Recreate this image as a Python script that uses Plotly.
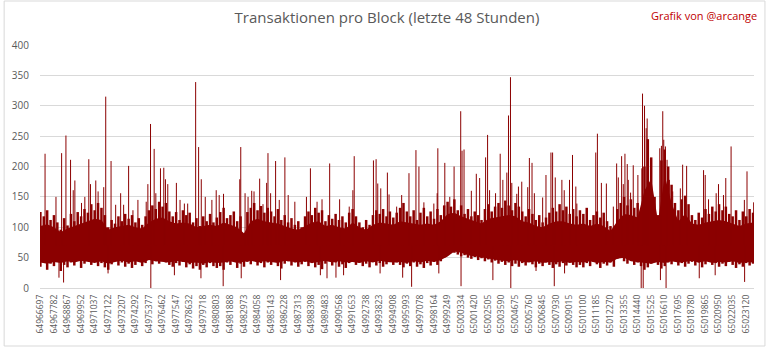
import numpy as np
import plotly.graph_objects as go

# ---------------- data ----------------
FIRST_BLOCK = 64966697
LAST_BLOCK = 65023770
SAMPLE_STEP = 271.4  # blocks between envelope samples

tick_blocks = [64966697, 64967782, 64968867, 64969952, 64971037, 64972122, 64973207,
               64974292, 64975377, 64976462, 64977547, 64978632, 64979718, 64980803,
               64981888, 64982973, 64984058, 64985143, 64986228, 64987313, 64988398,
               64989483, 64990568, 64991653, 64992738, 64993823, 64994908, 64995993,
               64997078, 64998164, 64999249, 65000334, 65001420, 65002505, 65003590,
               65004675, 65005760, 65006845, 65007930, 65009015, 65010100, 65011185,
               65012270, 65013355, 65014440, 65015525, 65016610, 65017695, 65018780,
               65019865, 65020950, 65022035, 65023120]
tick_labels = [str(b) for b in tick_blocks]

# max transactions per sample window
band_high = [125, 118, 128, 112, 120, 108, 96, 115, 103, 122,
             110, 125, 118, 130, 124, 138, 128, 140, 132, 120,
             100, 112, 106, 118, 110, 122, 114, 120, 108, 115,
             104, 118, 128, 136, 130, 142, 134, 140, 126, 118,
             125, 112, 128, 120, 124, 108, 115, 102, 118, 110,
             122, 108, 116,
             125, 132, 115, 120, 126, 110, 118, 88, 125, 132,
             140, 128, 135, 124, 132, 126, 118, 130, 112, 120,
             108, 115, 104, 110, 100, 118, 126, 120, 132, 124,
             128, 110, 120, 114, 122, 112, 118, 108, 124, 130,
             118, 108, 100, 112, 104, 120, 128, 122, 130, 118,
             126, 116, 124,
             132, 140, 126, 118, 128, 112, 124, 132, 118, 126,
             114, 130, 120, 136, 142, 134, 146, 128, 136, 122,
             130, 118, 126, 120, 112, 130, 138, 126, 134, 140,
             132, 144, 136, 128, 140, 134, 126, 118, 130, 122,
             112, 120, 108, 116, 124, 132, 126, 138, 128, 134,
             122, 130, 118,
             128, 122, 132, 112, 120, 126, 116, 124, 110, 102,
             96, 130, 140, 150, 136, 146, 132, 140, 128, 200,
             245, 215, 150, 120, 210, 228, 200, 170, 140, 128,
             146, 152, 138, 120, 112, 124, 116, 130, 122, 134,
             126, 138, 128, 134, 122, 118, 128, 112, 126, 118,
             130, 124]

# min transactions per sample window
band_low = [35, 42, 30, 40, 36, 44, 28, 38, 34, 42,
            37, 45, 33, 40, 46, 38, 43, 36, 41, 34,
            30, 39, 44, 37, 42, 35, 40, 33, 38, 45,
            36, 41, 47, 39, 44, 40, 46, 42, 38, 35,
            41, 37, 43, 34, 39, 32, 36, 30, 38, 34,
            41, 36, 33,
            36, 30, 42, 38, 44, 33, 40, 35, 43, 39,
            45, 37, 41, 34, 42, 38, 46, 36, 32, 40,
            44, 37, 42, 35, 39, 43, 36, 41, 34, 38,
            31, 40, 44, 37, 42, 35, 39, 33, 41, 45,
            38, 42, 36, 40, 34, 43, 37, 41, 35, 39,
            44, 38, 42,
            38, 34, 40, 36, 42, 35, 39, 33, 41, 37,
            43, 38, 44, 50, 62, 60, 58, 55, 52, 54,
            50, 48, 51, 46, 49, 44, 47, 42, 45, 40,
            43, 38, 42, 36, 40, 35, 41, 37, 43, 39,
            34, 40, 36, 42, 38, 33, 39, 35, 41, 37,
            43, 38, 34,
            38, 34, 41, 36, 43, 39, 33, 40, 37, 42,
            35, 48, 52, 44, 40, 46, 38, 42, 36, 30,
            34, 40, 45, 38, 32, 36, 42, 39, 44, 37,
            41, 35, 40, 43, 37, 42, 34, 39, 45, 38,
            41, 35, 40, 36, 43, 38, 33, 39, 35, 41,
            37, 40]

# dense core of the band (every second sample window)
core_high = [102, 105, 100, 92, 98, 102, 106, 110, 114, 112, 96, 100, 102, 104, 100, 98, 108,
             114, 116, 110, 106, 108, 106, 100, 102, 104, 102,
             108, 104, 100, 90, 110, 114, 110, 108, 106, 102, 98, 96, 102, 108, 110, 102, 104,
             100, 98, 108, 100, 96, 104, 108, 106, 104,
             110, 108, 106, 104, 106, 104, 110, 122, 124, 118, 114, 110, 106, 114, 116, 118,
             120, 118, 110, 108, 102, 100, 106, 110, 110, 106, 104,
             106, 102, 106, 102, 94, 110, 122, 120, 116, 160, 180, 110, 185, 140, 110, 122, 106,
             104, 108, 110, 112, 110, 106, 102, 106, 108]
core_low = [42, 40, 43, 41, 44, 42, 45, 43, 41, 44, 40, 43, 45, 42, 44, 41, 46, 44, 43, 42,
            45, 43, 41, 42, 40, 43, 41,
            42, 44, 41, 43, 45, 42, 44, 43, 41, 45, 43, 42, 44, 41, 43, 45, 42, 44, 42, 43,
            41, 44, 42, 45, 43, 42,
            43, 41, 44, 42, 45, 43, 46, 52, 60, 58, 54, 52, 50, 48, 46, 45, 44, 46, 43, 42,
            44, 41, 43, 42, 44, 41, 43,
            42, 44, 41, 43, 42, 48, 50, 44, 43, 42, 40, 43, 41, 44, 42, 43, 45, 42, 44, 41,
            43, 42, 44, 41, 43, 42]

# individual peak blocks
spike_blocks = [64967071, 64967945, 64968395, 64968741, 64969111, 64969324, 64969456, 64969987,
                64970252, 64970571, 64970704, 64971128, 64971314, 64971764, 64971923, 64972349,
                64972719, 64973117, 64973356, 64973754, 64974100, 64974498, 64975161, 64975294,
                64975506, 64975797, 64975931, 64976302, 64976567, 64976700, 64976886, 64977575,
                64977867, 64978212, 64978478, 64979115, 64979353, 64979565, 64979883, 64980414,
                64980760,
                64980999, 64981344, 64982644, 64982723, 64983068, 64983307, 64983599, 64983784,
                64984235, 64984501, 64984793, 64984899, 64985111, 64985509, 64985801, 64986252,
                64986517, 64987048, 64987976, 64988294, 64988825, 64989223, 64989833, 64990629,
                64991398, 64991690, 64991796, 64993335, 64993547, 64993680, 64993919, 64994450,
                64994583, 64995192,
                64995592, 64996176, 64996733, 64996972, 64997369, 64998165, 64998431, 64998484,
                64999041, 64999439, 64999784, 65000314, 65000420, 65000580, 65001163, 65001561,
                65001827, 65002304, 65002463, 65002622, 65003100, 65003471, 65003684, 65004002,
                65004135, 65004294, 65004400, 65004798, 65004931, 65005196, 65005673, 65005806,
                65006018, 65006204, 65006867, 65007133, 65007530, 65007663, 65007875, 65008406,
                65008592, 65009016, 65009255, 65009520,
                65009602, 65011114, 65011246, 65011565, 65011963, 65012520, 65012785, 65012918,
                65013183, 65013316, 65013448, 65013634, 65013714, 65013900, 65014112, 65014483,
                65014801, 65014855, 65015014, 65015146, 65015226, 65015306, 65016234, 65016367,
                65016473, 65016553, 65016685, 65016818, 65017003, 65017269, 65017879, 65018064,
                65018383, 65019736, 65019869, 65020134, 65020744, 65020930, 65021328, 65021513,
                65021938, 65023000, 65023211, 65023742]
spike_values = [221, 150, 222, 251, 211, 161, 177, 140,
                150, 212, 171, 177, 159, 166, 315, 209,
                137, 156, 137, 201, 128, 145, 142, 171,
                270, 229, 156, 197, 198, 179, 171, 173,
                145, 139, 139, 339, 232, 179, 150, 145,
                161,
                153, 155, 179, 232, 156, 150, 160, 159,
                180, 138, 173, 222, 156, 209, 145, 215,
                153, 142, 150, 197, 142, 146, 205, 146,
                134, 161, 217, 210, 212, 172, 164, 190,
                154, 134,
                153, 189, 227, 200, 141, 139, 156, 230,
                206, 150, 200, 291, 226, 228, 160, 188,
                181, 215, 252, 161, 156, 221, 178, 190,
                284, 347, 173, 155, 167, 175, 166, 214,
                206, 156, 149, 186, 223, 223, 182, 178,
                161, 178, 219, 167,
                139, 223, 254, 173, 172, 134, 205, 182,
                217, 171, 221, 204, 178, 157, 202, 186,
                197, 320, 300, 263, 279, 178, 230, 234,
                291, 244, 233, 211, 178, 159, 164, 203,
                201, 194, 186, 146, 156, 171, 153, 181,
                233, 145, 192, 141]

# individual low blocks
dip_blocks = [64968183, 64968554, 64972110, 64975530, 64977416, 64979539, 64981317, 64982760,
              64985907, 64989090, 64989621, 64990337, 64990947, 64993866, 64995672, 64996388,
              64998563, 65000340, 65002887, 65004320, 65006337, 65007796, 65008620, 65014748,
              65014908, 65016287, 65016738, 65019391, 65020665, 65023020]
dip_values = [17, 9, 24, 0, 21, 16, 3, 16,
              13, 21, 16, 17, 21, 24, 17, 2,
              24, 3, 13, 0, 28, 3, 24, 0,
              0, 13, 0, 16, 21, 10]

# ---------------- figure ----------------
RED = "#8B0000"
GRAY = "#595959"
GRID = "#D9D9D9"
FONT = "Open Sans"

n = min(len(band_high), len(band_low))
sample_blocks = FIRST_BLOCK + np.arange(n) * SAMPLE_STEP
m = min(len(core_high), len(core_low))
core_blocks = FIRST_BLOCK + np.arange(m) * 2 * SAMPLE_STEP


def segments(xs, y0s, y1s):
    ox, oy = [], []
    for x, a, b in zip(xs, y0s, y1s):
        ox += [x, x, None]
        oy += [a, b, None]
    return ox, oy


BASE = 70
wx, wy = segments(sample_blocks, band_low[:n], band_high[:n])
sx, sy = segments(spike_blocks, [BASE] * len(spike_blocks), spike_values)
dx, dy = segments(dip_blocks, [BASE] * len(dip_blocks), dip_values)

fig = go.Figure()
# min-max range of each sample window
fig.add_trace(go.Scatter(x=wx, y=wy, mode="lines", line=dict(color=RED, width=2.5),
                         hoverinfo="skip"))
# dense core
fig.add_trace(go.Scatter(x=core_blocks, y=core_low[:m], mode="lines",
                         line=dict(color=RED, width=0), hoverinfo="skip"))
fig.add_trace(go.Scatter(x=core_blocks, y=core_high[:m], mode="lines", fill="tonexty",
                         fillcolor=RED, line=dict(color=RED, width=0), hoverinfo="skip"))
# peaks and lows
fig.add_trace(go.Scatter(x=sx, y=sy, mode="lines", line=dict(color=RED, width=1),
                         hoverinfo="skip"))
fig.add_trace(go.Scatter(x=dx, y=dy, mode="lines", line=dict(color=RED, width=1),
                         hoverinfo="skip"))

W, H = 768, 349
ML, MR, MT, MB = 37, 14, 45, 61
pw, ph = W - ML - MR, H - MT - MB

fig.update_layout(
    width=W, height=H,
    margin=dict(l=ML, r=MR, t=MT, b=MB),
    paper_bgcolor="white", plot_bgcolor="white",
    showlegend=False,
    font=dict(family=FONT, color=GRAY),
    title=dict(text="Transaktionen pro Block (letzte 48 Stunden)",
               font=dict(family=FONT, size=15, color=GRAY),
               x=387 / W, xanchor="center", xref="container",
               y=1 - 18 / H, yanchor="middle", yref="container"),
    xaxis=dict(range=[FIRST_BLOCK - 30, LAST_BLOCK], tickmode="array",
               tickvals=tick_blocks, ticktext=tick_labels, tickangle=-90,
               tickfont=dict(family=FONT, size=8.5, color=GRAY),
               showgrid=False, zeroline=False, showline=False, ticks="",
               ticklabelstandoff=4),
    yaxis=dict(range=[0, 400], dtick=50, tick0=0,
               tickfont=dict(family=FONT, size=10, color=GRAY),
               showgrid=True, gridcolor=GRID, gridwidth=1,
               zeroline=True, zerolinecolor=GRID, zerolinewidth=1,
               showline=False, ticks="", ticklabelstandoff=10),
    annotations=[dict(text="Grafik von @arcange", xref="paper", yref="paper",
                      x=(759 - ML) / pw, y=(H - MB - 16) / ph,
                      xanchor="right", yanchor="middle", showarrow=False,
                      font=dict(family=FONT, size=11, color="#C00000"))],
    shapes=[dict(type="rect", xref="paper", yref="paper",
                 x0=(1 - ML) / pw, x1=(765 - ML) / pw,
                 y0=(H - MB - 346) / ph, y1=(H - MB - 1) / ph,
                 line=dict(color=GRID, width=1), fillcolor="rgba(0,0,0,0)",
                 layer="below")],
)

fig.write_html("out.html")
